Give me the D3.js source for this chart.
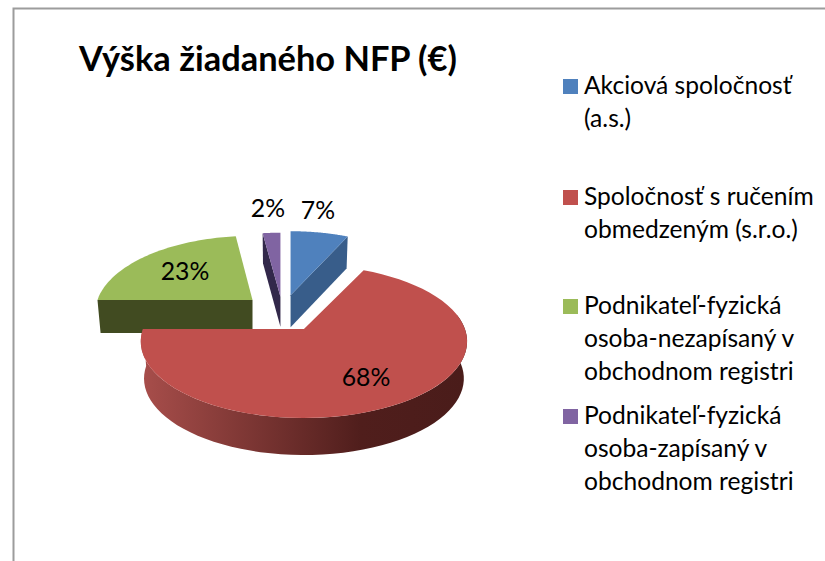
<!DOCTYPE html>
<html><head><meta charset="utf-8">
<script src="https://cdn.jsdelivr.net/npm/d3@7"></script>
<style>html,body{margin:0;padding:0;background:#fff}svg{display:block}text{font-family:Lato,Carlito,sans-serif;fill:#000}</style>
</head><body><svg id="c" width="825" height="561"></svg>
<script>
const titleText = "Výška žiadaného NFP (€)";
const categories = ["Akciová spoločnosť (a.s.)","Spoločnosť s ručením obmedzeným (s.r.o.)","Podnikateľ-fyzická osoba-nezapísaný v obchodnom registri","Podnikateľ-fyzická osoba-zapísaný v obchodnom registri"];
const values = [7,68,23,2];
const legendLines = [["Akciová spoločnosť","(a.s.)"],["Spoločnosť s ručením","obmedzeným (s.r.o.)"],["Podnikateľ-fyzická","osoba-nezapísaný v","obchodnom registri"],["Podnikateľ-fyzická","osoba-zapísaný v","obchodnom registri"]];
const topColors = ["#4f81bd","#c0504d","#9bbb59","#8064a2"];
const sideColors = ["#385d8a","#8c3836","#414b21","#32284a"];

// layout constants
const base = {x:282.5, y:312.7}, squash = .483, persp = .163, vertical = 74.5;
const explode = [37,40,40,33], radius = [154,161,155,165], depth = [32,37,33,30];
const legendTop = [93,204,313,423], lineGap = 33;
const svg = d3.select("#c");

svg.append("path").attr("d","M13.5,561V8.5H825").attr("fill","none").attr("stroke","#9c9c9c").attr("stroke-width",2);
svg.append("text").attr("x",79).attr("y",71).attr("font-size",34.4).attr("font-weight",700).text(titleText);

const defs = svg.append("defs");
const grad = defs.append("linearGradient").attr("id","wall").attr("gradientUnits","userSpaceOnUse").attr("x1",141).attr("x2",464).attr("y1",0).attr("y2",0);
[[0,"#a84e4b"],[.68,"#501e1c"],[1,"#4a1c1a"]].forEach(s=>grad.append("stop").attr("offset",s[0]).attr("stop-color",s[1]));

const pie = d3.pie().sort(null).value(d=>d);
const arcs = pie(values);
const line = d3.line();

function project(i,a,r,low){
  const mid=(arcs[i].startAngle+arcs[i].endAngle)/2;
  const cx=base.x+explode[i]*Math.sin(mid), cy=base.y-explode[i]*squash*Math.cos(mid);
  const z=Math.cos(a), w=1+persp*z, k=low?.98:1;
  return [cx+k*r*radius[i]*Math.sin(a)/w, cy-r*vertical*z/w+(low?depth[i]:0)];
}
function rim(i,a0,a1,low){
  return d3.range(0,61).map(n=>project(i,a0+(a1-a0)*n/60,1,low));
}
const g = svg.append("g");
function cutSide(i,a){
  g.append("path").attr("fill",sideColors[i]).attr("d",line([project(i,a,0,false),project(i,a,1,false),project(i,a,1,true),project(i,a,0,true)])+"Z");
}
function topFace(i){
  g.append("path").attr("fill",topColors[i]).attr("d",line([project(i,0,0,false)].concat(rim(i,arcs[i].startAngle,arcs[i].endAngle,false)))+"Z");
}
// blue, purple, green, then the large front slice
cutSide(0,arcs[0].endAngle); topFace(0);
cutSide(3,arcs[3].startAngle); topFace(3);
cutSide(2,arcs[2].startAngle); topFace(2);
const wallFrom=Math.PI/2-.2, wallTo=arcs[1].endAngle;
g.append("path").attr("fill","url(#wall)").attr("d",line(rim(1,wallFrom,wallTo,false).concat(rim(1,wallFrom,wallTo,true).reverse()))+"Z");
topFace(1);

// percentage labels
const labelPos=[[318,219],[366,386],[185,280],[268,217]];
const total=d3.sum(values);
svg.append("g").selectAll("text").data(values).join("text")
  .attr("x",(d,i)=>labelPos[i][0]).attr("y",(d,i)=>labelPos[i][1])
  .attr("text-anchor","middle").attr("font-size",24.8)
  .text(d=>d3.format(".0%")(d/total));

const leg = svg.append("g").selectAll("g").data(legendLines).join("g");
leg.append("rect").attr("x",563).attr("y",(d,i)=>legendTop[i]-14).attr("width",15).attr("height",15).attr("fill",(d,i)=>topColors[i]);
leg.each(function(d,i){
  d3.select(this).selectAll("text").data(d).join("text").attr("x",584).attr("y",(t,j)=>legendTop[i]+1+j*lineGap).attr("font-size",24.6).text(t=>t);
});
</script></body></html>
